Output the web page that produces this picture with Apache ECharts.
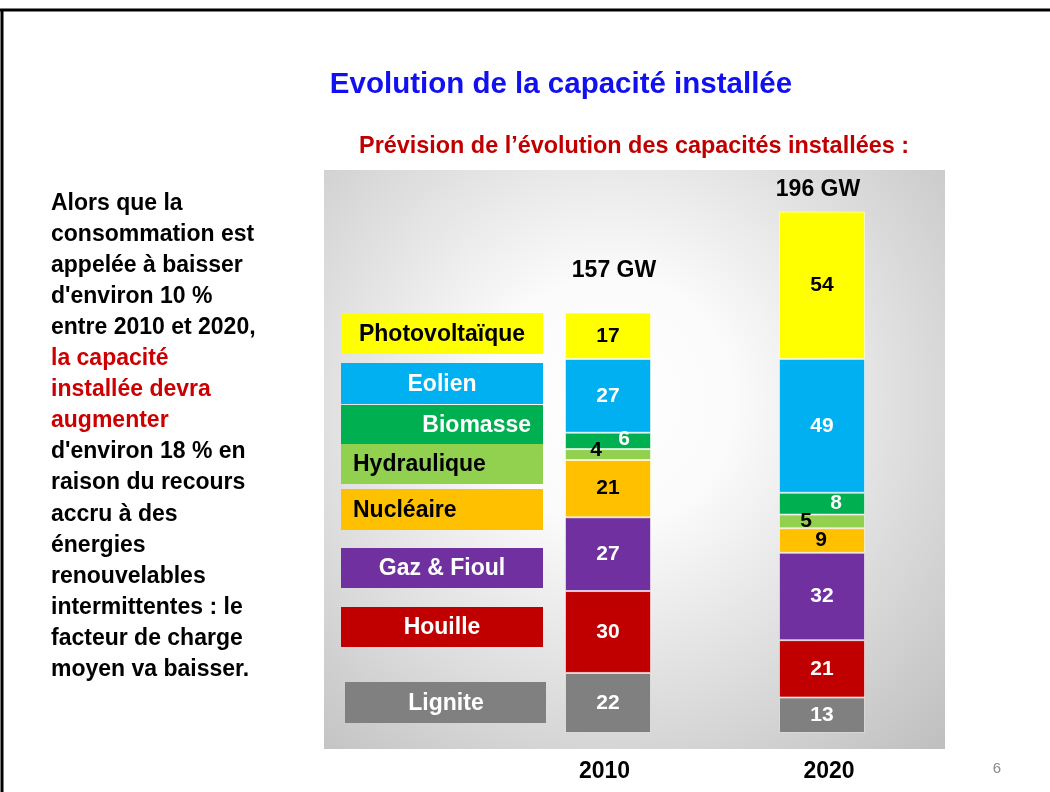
<!DOCTYPE html>
<html>
<head>
<meta charset="utf-8">
<script src="https://cdn.jsdelivr.net/npm/echarts@6/dist/echarts.min.js"></script>
<style>
html, body { margin: 0; padding: 0; background: #fff; }
#main { width: 1050px; height: 792px; }
</style>
</head>
<body>
<div id="main"></div>
<script>
// données
var years = ['2010', '2020'];
var totals = ['157 GW', '196 GW'];
var sources = ['Lignite', 'Houille', 'Gaz & Fioul', 'Nucléaire', 'Hydraulique', 'Biomasse', 'Eolien', 'Photovoltaïque'];
var lignite = [22, 13];
var houille = [30, 21];
var gazFioul = [27, 32];
var nucleaire = [21, 9];
var hydraulique = [4, 5];
var biomasse = [6, 8];
var eolien = [27, 49];
var photovoltaique = [17, 54];
var values = [lignite, houille, gazFioul, nucleaire, hydraulique, biomasse, eolien, photovoltaique];

var paragraph = [
    'Alors que la', 'consommation est', 'appelée à baisser', "d'environ 10 %",
    'entre 2010 et 2020,', 'la capacité', 'installée devra', 'augmenter',
    "d'environ 18 % en", 'raison du recours', 'accru à des', 'énergies',
    'renouvelables', 'intermittentes : le', 'facteur de charge', 'moyen va baisser.'
];
var redLines = [5, 6, 7];

// styles
var FONT = "'Liberation Sans', Arial, sans-serif";
var colors = ['#808080', '#c00000', '#7030a0', '#ffc000', '#92d050', '#00b050', '#00b0f0', '#ffff00'];
var textColors = ['#fff', '#fff', '#fff', '#000', '#000', '#fff', '#fff', '#000'];
// décalage des petites étiquettes (par source, par année)
var labelOffsets = {
    'Hydraulique': [[-12, -4], [-16, 0]],
    'Biomasse': [[16, -2], [14, 0]],
    'Nucléaire': [[0, 0], [-1, 0]]
};
var totalOffsets = [[6, -20], [-4, 0]];
// décalage des années sous les barres : [padding gauche, padding droite]
var yearPadding = [[0, 7], [14, 0]];
// boîtes de légende : x, y, largeur, hauteur, alignement, position du texte
var legendLayout = [
    [345, 682, 201, 41, 'center', 446],
    [341, 607, 202, 40, 'center', 442],
    [341, 548, 202, 40, 'center', 442],
    [341, 489, 202, 41, 'left', 353],
    [341, 444, 202, 40, 'left', 353],
    [341, 405, 202, 39, 'right', 531],
    [341, 363, 202, 41, 'center', 442],
    [341, 313, 202, 41, 'center', 442]
];

var myChart = echarts.init(document.getElementById('main'));

var series = sources.map(function (name, i) {
    return {
        name: name,
        type: 'bar',
        stack: 'cap',
        barWidth: 86,
        data: values[i].map(function (v, j) {
            var off = labelOffsets[name] ? labelOffsets[name][j] : [0, 0];
            return { value: v, label: { offset: off } };
        }),
        itemStyle: {
            color: colors[i],
            borderColor: 'rgba(255,255,255,0.55)',
            borderWidth: 1
        },
        label: {
            show: true,
            position: 'inside',
            color: textColors[i],
            fontFamily: FONT,
            fontWeight: 'bold',
            fontSize: 21
        },
        z: 5
    };
});

series.push({
    name: 'Total',
    type: 'bar',
    stack: 'cap',
    barWidth: 86,
    data: totals.map(function (t, j) {
        return { value: 0, label: { offset: totalOffsets[j] } };
    }),
    itemStyle: { color: 'transparent' },
    label: {
        show: true,
        position: 'top',
        distance: 10,
        color: '#000',
        fontFamily: FONT,
        fontWeight: 'bold',
        fontSize: 23,
        formatter: function (p) { return totals[p.dataIndex]; }
    },
    z: 5
});

var graphics = [
    // bordure de la diapo
    { type: 'line', shape: { x1: 0, y1: 10, x2: 1050, y2: 10 }, style: { stroke: '#000', lineWidth: 3 } },
    { type: 'line', shape: { x1: 2, y1: 10, x2: 2, y2: 792 }, style: { stroke: '#000', lineWidth: 3 } },
    // fond dégradé
    {
        type: 'rect', z: -10,
        shape: { x: 324, y: 170, width: 621, height: 579 },
        style: {
            fill: new echarts.graphic.RadialGradient(0.46, 0.4, 0.85, [
                { offset: 0, color: '#ffffff' },
                { offset: 0.25, color: '#fbfbfb' },
                { offset: 1, color: '#bdbdbd' }
            ])
        }
    },
    {
        type: 'text',
        style: { x: 561, y: 85, text: 'Evolution de la capacité installée', fill: '#1010f0',
            font: 'bold 29.5px ' + FONT, textAlign: 'center', textVerticalAlign: 'middle' }
    },
    {
        type: 'text',
        style: { x: 634, y: 147, text: 'Prévision de l\u2019évolution des capacités installées :', fill: '#c00000',
            font: 'bold 23.4px ' + FONT, textAlign: 'center', textVerticalAlign: 'middle' }
    },
    {
        type: 'text',
        style: { x: 997, y: 769, text: '6', fill: '#8a8a8a',
            font: '15px ' + FONT, textAlign: 'center', textVerticalAlign: 'middle' }
    }
];

paragraph.forEach(function (line, i) {
    graphics.push({
        type: 'text',
        style: {
            x: 51, y: 203.5 + i * 31.07, text: line,
            fill: redLines.indexOf(i) >= 0 ? '#cc0000' : '#000',
            font: 'bold 23px ' + FONT, textAlign: 'left', textVerticalAlign: 'middle'
        }
    });
});

sources.forEach(function (name, i) {
    var L = legendLayout[i];
    graphics.push({
        type: 'rect', z: 20,
        shape: { x: L[0], y: L[1], width: L[2], height: L[3] },
        style: { fill: colors[i] }
    });
    graphics.push({
        type: 'text', z: 21,
        style: {
            x: L[5], y: L[1] + L[3] / 2 + 1, text: name, fill: textColors[i],
            font: 'bold 23px ' + FONT, textAlign: L[4], textVerticalAlign: 'middle'
        }
    });
});

var option = {
    animation: false,
    backgroundColor: '#fff',
    grid: { left: 501, right: 121, top: 187, bottom: 59 },
    xAxis: {
        type: 'category',
        data: years.map(function (y, j) {
            return { value: y, textStyle: { padding: [0, yearPadding[j][1], 0, yearPadding[j][0]] } };
        }),
        axisLine: { show: false },
        axisTick: { show: false },
        axisLabel: {
            margin: 27,
            color: '#000',
            fontFamily: FONT,
            fontWeight: 'bold',
            fontSize: 23
        }
    },
    yAxis: {
        type: 'value',
        min: 0,
        max: 200,
        show: false
    },
    graphic: graphics,
    series: series
};

myChart.setOption(option);
window.addEventListener('resize', function () {
    myChart.resize();
});
</script>
</body>
</html>
